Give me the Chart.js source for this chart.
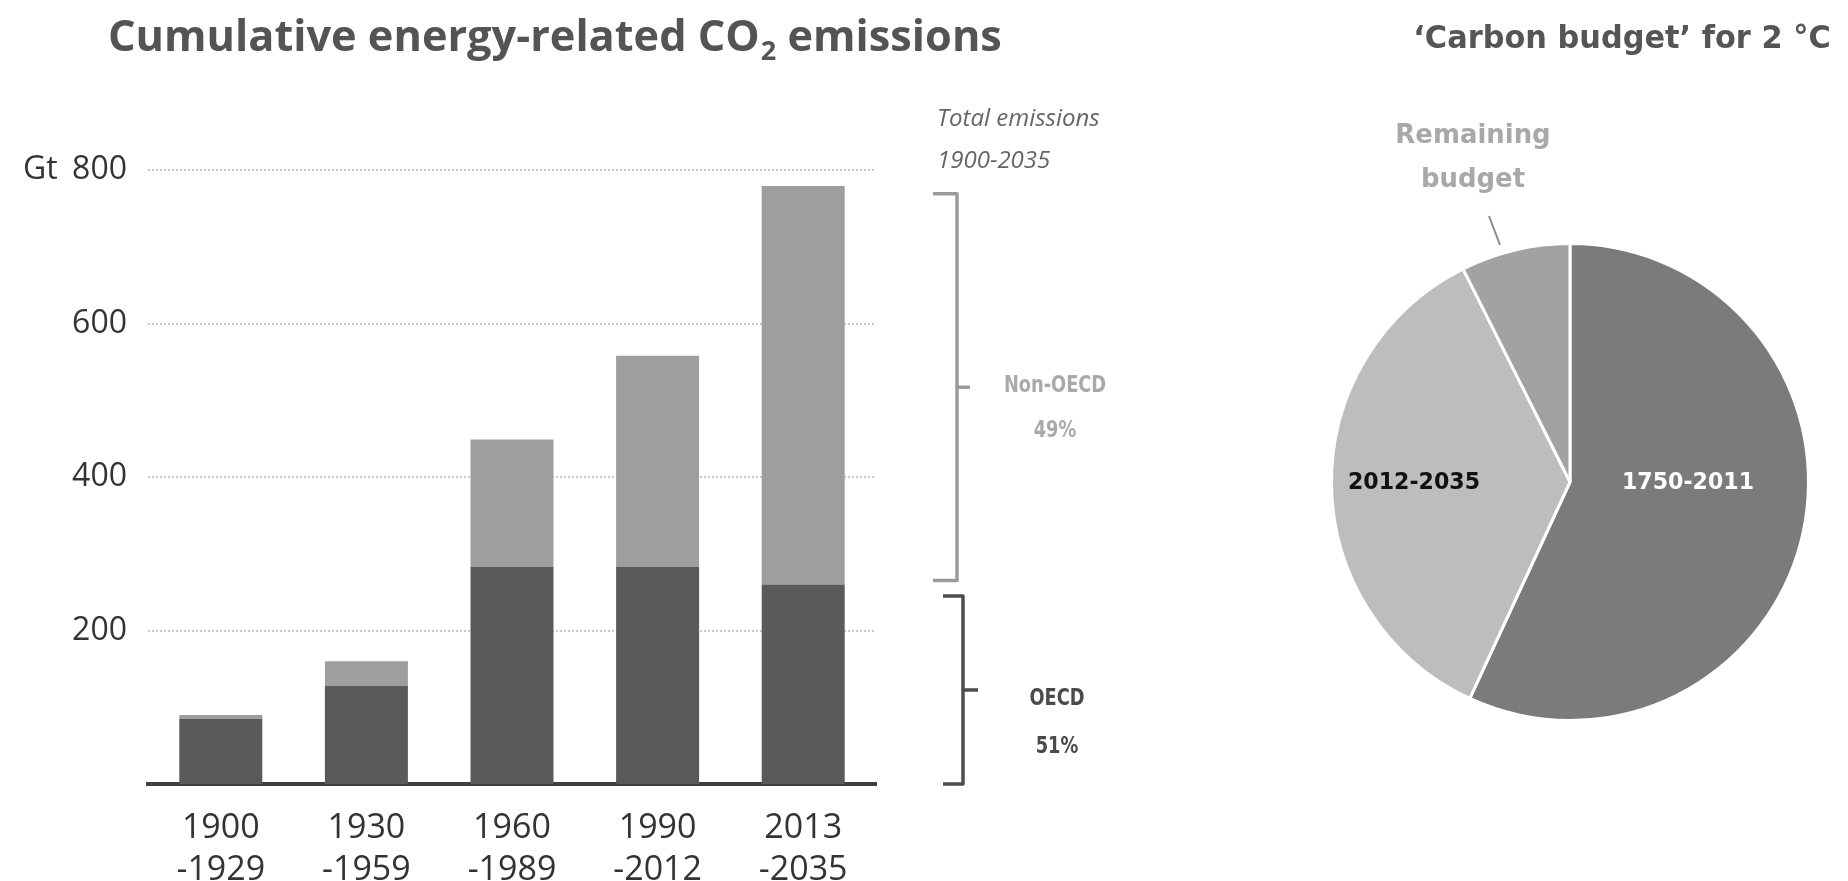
<!DOCTYPE html>
<html><head><meta charset="utf-8">
<script src="https://cdn.jsdelivr.net/npm/chart.js@4.4.1/dist/chart.umd.min.js"></script>
<style>
html,body{margin:0;padding:0;background:#fff;width:1848px;height:881px;overflow:hidden}
#barWrap{position:absolute;left:0;top:0;width:1130px;height:881px}
#pieWrap{position:absolute;left:1130px;top:0;width:718px;height:881px}
</style></head><body>
<div id="barWrap"><canvas id="bar"></canvas></div>
<div id="pieWrap"><canvas id="pie"></canvas></div>
<script>
// ---- data ----
const periods = [['1900','-1929'],['1930','-1959'],['1960','-1989'],['1990','-2012'],['2013','-2035']];
const oecd = [85,128,283,283,260];
const nonOecd = [5,32,166,275,519];
const yTicks = [200,400,600,800];
const pieLabels = ['1750-2011','2012-2035','Remaining budget'];
const pieValues = [56.9,35.7,7.4];

function txt(ctx, s, x, y, font, color, align, sx){
  ctx.save();
  ctx.font = font; ctx.fillStyle = color; ctx.textAlign = align || 'center'; ctx.textBaseline = 'middle';
  ctx.translate(x, y); ctx.scale(sx || 1, 1); ctx.fillText(s, 0, 0);
  ctx.restore();
}
function bracket(ctx, xv, top, bot, hook, tick, color){
  ctx.save();
  ctx.strokeStyle = color; ctx.lineWidth = 3.5; ctx.lineJoin = 'round';
  ctx.beginPath(); ctx.moveTo(xv-hook, top); ctx.lineTo(xv, top); ctx.lineTo(xv, bot); ctx.lineTo(xv-hook, bot); ctx.stroke();
  const mid = (top+bot)/2;
  ctx.beginPath(); ctx.moveTo(xv, mid); ctx.lineTo(xv+tick, mid); ctx.stroke();
  ctx.restore();
  return mid;
}

const barAnno = {id:'barAnno', afterDraw(chart){
  const ctx = chart.ctx, y = chart.scales.y;
  ctx.save();
  // title with subscript
  ctx.fillStyle = '#545454'; ctx.textAlign = 'left'; ctx.textBaseline = 'alphabetic';
  let x = 108; const base = 51;
  ctx.font = 'bold 43.3px "Open Sans"';
  const t1 = 'Cumulative energy-related CO';
  ctx.fillText(t1, x, base); x += ctx.measureText(t1).width + 1;
  ctx.font = 'bold 27px "Open Sans"';
  ctx.fillText('2', x, base + 9); x += ctx.measureText('2').width;
  ctx.font = 'bold 43.3px "Open Sans"';
  ctx.fillText(' emissions', x, base);
  ctx.restore();
  // unit
  txt(ctx, 'Gt', 23, y.getPixelForValue(800), '32px "Open Sans"', '#333', 'left');
  // total emissions note
  txt(ctx, 'Total emissions', 937, 119, 'italic 24px "Open Sans"', '#666', 'left');
  txt(ctx, '1900-2035', 937, 161, 'italic 24px "Open Sans"', '#666', 'left');
  // brackets
  const m1 = bracket(ctx, 957, y.getPixelForValue(769), y.getPixelForValue(265), 24, 13, '#9a9a9a');
  const m2 = bracket(ctx, 963, y.getPixelForValue(245), y.getPixelForValue(0), 20, 15, '#4e4e4e');
  txt(ctx, 'Non-OECD', 1055, m1 - 1, 'bold 22.5px "DejaVu Sans"', '#a9a9a9', 'center', 0.79);
  txt(ctx, '49%', 1055, m1 + 44, 'bold 22.5px "DejaVu Sans"', '#a9a9a9', 'center', 0.79);
  txt(ctx, 'OECD', 1057, m2 + 9, 'bold 22.5px "DejaVu Sans"', '#4a4a4a', 'center', 0.79);
  txt(ctx, '51%', 1057, m2 + 57, 'bold 22.5px "DejaVu Sans"', '#4a4a4a', 'center', 0.79);
}};

new Chart(document.getElementById('bar'), {
  type: 'bar',
  data: {labels: periods, datasets: [
    {label:'OECD', data: oecd, backgroundColor:'#5a5a5a', barPercentage:0.57, categoryPercentage:1},
    {label:'Non-OECD', data: nonOecd, backgroundColor:'#9e9e9e', barPercentage:0.57, categoryPercentage:1}
  ]},
  options: {
    responsive:true, maintainAspectRatio:false, animation:false,
    layout:{padding:{top:170, right:254, left:0, bottom:0}},
    plugins:{legend:{display:false}, tooltip:{enabled:false}},
    scales:{
      x:{stacked:true, grid:{display:false, drawTicks:false},
         border:{display:true, color:'#3f3f3f', width:4},
         ticks:{color:'#333', font:{family:'Open Sans', size:34, lineHeight:1.22}, padding:24, maxRotation:0, autoSkip:false},
         afterFit:s=>{s.height = 97;}},
      y:{stacked:true, min:0, max:800,
         afterBuildTicks:s=>{s.ticks = yTicks.map(v=>({value:v}));},
         grid:{color:'#c9c9c9', lineWidth:2, drawTicks:false},
         border:{display:false, dash:[2,2]},
         ticks:{color:'#333', font:{family:'Open Sans', size:32}, padding:21},
         afterFit:s=>{s.width = 148;}}
    }
  },
  plugins:[barAnno]
});

const pieAnno = {id:'pieAnno', afterDraw(chart){
  const ctx = chart.ctx;
  const arc = chart.getDatasetMeta(0).data[0];
  const cx = arc.x, cy = arc.y;
  txt(ctx, '\u2018Carbon budget\u2019 for 2 \u00B0C', 492, 40, 'bold 32px "DejaVu Sans"', '#555', 'center', 0.95);
  txt(ctx, pieLabels[0], cx + 118, cy + 1, 'bold 23px "DejaVu Sans"', '#fff', 'center', 0.96);
  txt(ctx, pieLabels[1], cx - 156, cy + 1, 'bold 23px "DejaVu Sans"', '#111', 'center', 0.96);
  const rb = pieLabels[2].split(' ');
  txt(ctx, rb[0], 343, 136, 'bold 27px "DejaVu Sans"', '#a8a8a8', 'center', 0.96);
  txt(ctx, rb[1], 343, 180, 'bold 27px "DejaVu Sans"', '#a8a8a8', 'center', 0.96);
  ctx.save(); ctx.strokeStyle = '#8a8a8a'; ctx.lineWidth = 2;
  ctx.beginPath(); ctx.moveTo(359, 216); ctx.lineTo(370, 245); ctx.stroke(); ctx.restore();
}};

new Chart(document.getElementById('pie'), {
  type: 'pie',
  data: {labels: pieLabels, datasets: [{data: pieValues,
    backgroundColor:['#7b7b7b','#bdbdbd','#a2a2a2'], borderColor:'#fff', borderWidth:3}]},
  options: {
    responsive:true, maintainAspectRatio:false, animation:false,
    layout:{padding:{left:200, right:38, top:242, bottom:159}},
    plugins:{legend:{display:false}, tooltip:{enabled:false}}
  },
  plugins:[pieAnno]
});
</script>
</body></html>
